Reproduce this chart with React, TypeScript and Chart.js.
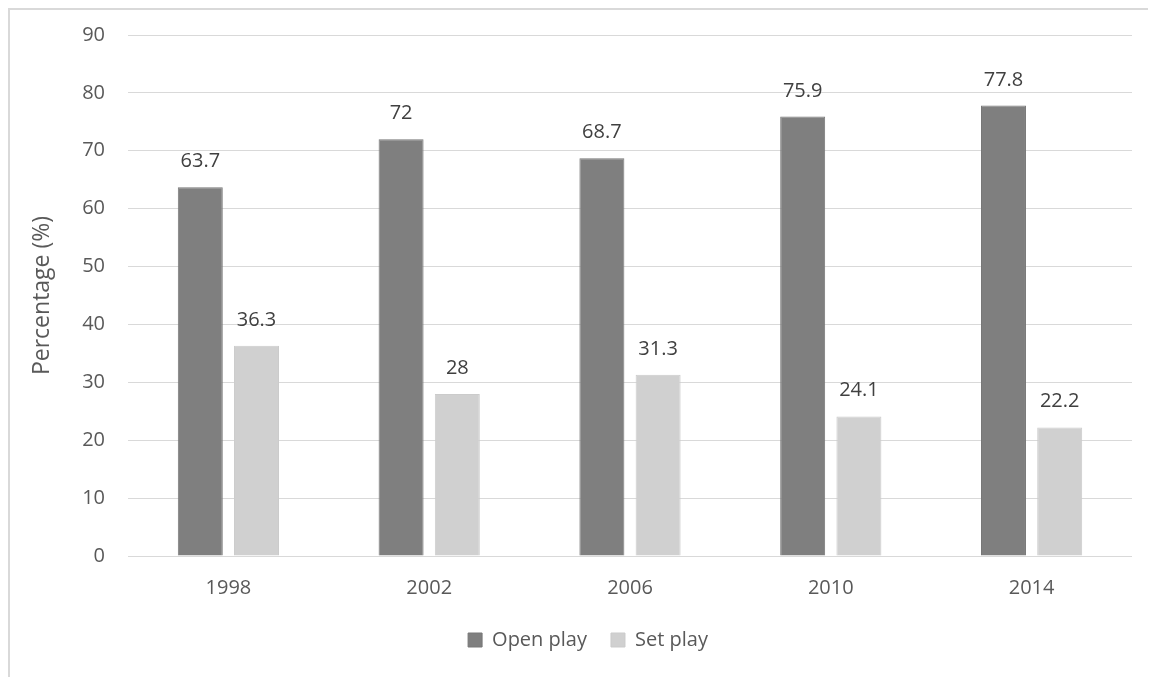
import React, { useEffect, useRef } from "react";
import { Chart, registerables } from "chart.js";

Chart.register(...registerables);

const categories = ["1998", "2002", "2006", "2010", "2014"];
const openPlay = [63.7, 72, 68.7, 75.9, 77.8];
const setPlay = [36.3, 28, 31.3, 24.1, 22.2];
const seriesNames = ["Open play", "Set play"];
const yTicks = [0, 10, 20, 30, 40, 50, 60, 70, 80, 90];

const FONT = "'Open Sans', sans-serif";
const TEXT = "#595959";

const valueLabels = {
  id: "valueLabels",
  afterDatasetsDraw(chart: any) {
    const ctx = chart.ctx;
    ctx.save();
    ctx.font = `20px ${FONT}`;
    ctx.fillStyle = "#404040";
    ctx.textAlign = "center";
    ctx.textBaseline = "alphabetic";
    chart.data.datasets.forEach((ds: any, di: number) => {
      const meta = chart.getDatasetMeta(di);
      meta.data.forEach((bar: any, i: number) => {
        ctx.fillText(String(ds.data[i]), bar.x, bar.y - 20);
      });
    });
    ctx.restore();
  },
};

const legendShift = {
  id: "legendShift",
  afterLayout(chart: any) {
    if (chart.legend) {
      chart.legend.left += 17;
      chart.legend.right += 17;
    }
  },
};

export default function App() {
  const ref = useRef<HTMLCanvasElement | null>(null);
  useEffect(() => {
    document.documentElement.style.overflow = "hidden";
    document.body.style.overflow = "hidden";
    const chart = new Chart(ref.current!, {
      type: "bar",
      data: {
        labels: categories,
        datasets: [
          {
            label: seriesNames[0],
            data: openPlay,
            backgroundColor: "#7f7f7f",
            borderColor: "#787878",
            borderWidth: 1,
            categoryPercentage: 0.56,
            barPercentage: 0.8,
          },
          {
            label: seriesNames[1],
            data: setPlay,
            backgroundColor: "#d0d0d0",
            borderColor: "#cbcbcb",
            borderWidth: 1,
            categoryPercentage: 0.56,
            barPercentage: 0.8,
          },
        ],
      },
      options: {
        animation: false,
        responsive: false,
        maintainAspectRatio: false,
        layout: { padding: { left: 0, right: 24, top: 25, bottom: 17 } },
        plugins: {
          legend: {
            position: "bottom",
            labels: {
              boxWidth: 14,
              boxHeight: 14,
              padding: 24,
              color: TEXT,
              font: { family: FONT, size: 20 },
            },
          },
          tooltip: { enabled: false },
        },
        scales: {
          x: {
            grid: { display: false, drawTicks: false },
            border: { display: false },
            ticks: { color: TEXT, font: { family: FONT, size: 20 }, padding: 20 },
            afterFit(scale: any) {
              scale.height = 50;
            },
          },
          y: {
            min: 0,
            max: 90,
            afterBuildTicks(scale: any) {
              scale.ticks = yTicks.map((v) => ({ value: v }));
            },
            grid: { color: "#d9d9d9", lineWidth: 1, drawTicks: false },
            border: { display: false },
            ticks: { color: TEXT, font: { family: FONT, size: 20 }, padding: 23 },
            title: {
              display: true,
              text: "Percentage (%)",
              color: TEXT,
              font: { family: FONT, size: 23 },
              padding: { top: 19, bottom: 0 },
            },
            afterFit(scale: any) {
              scale.width = 118;
              scale.paddingTop = 0;
              scale.paddingBottom = 0;
            },
          },
        },
      },
      plugins: [valueLabels, legendShift],
    });
    return () => chart.destroy();
  }, []);

  return (
    <div
      style={{
        borderTop: "2px solid #d9d9d9",
        borderLeft: "2px solid #d9d9d9",
        width: 1147,
        height: 668,
        boxSizing: "content-box",
      }}
    >
      <canvas ref={ref} width={1146} height={667} style={{ display: "block" }} />
    </div>
  );
}
